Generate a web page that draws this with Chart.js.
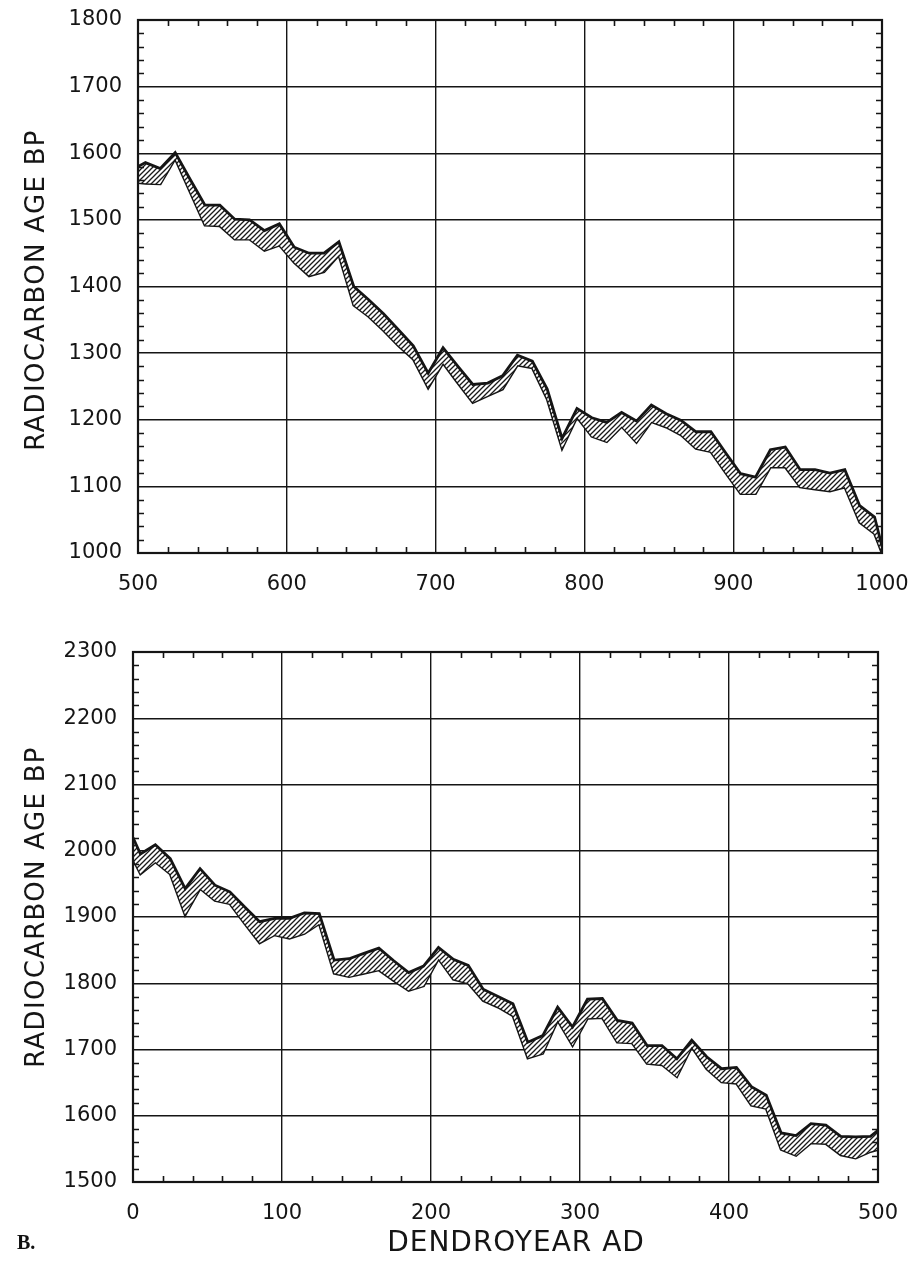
<!DOCTYPE html>
<html><head><meta charset="utf-8">
<script src="https://cdn.jsdelivr.net/npm/chart.js@4/dist/chart.umd.min.js"></script>
<style>
html,body{margin:0;padding:0;background:#fff;width:913px;height:1261px;overflow:hidden;position:relative}
#c1{position:absolute;left:0;top:0}
#c2{position:absolute;left:0;top:620px}
#lbl{position:absolute;left:17px;top:1232px;font:bold 20px "Liberation Serif",serif;line-height:20px;color:#111}
</style></head><body>
<canvas id="c1" width="913" height="620"></canvas>
<canvas id="c2" width="913" height="641"></canvas>
<div id="lbl">B.</div>
<script>
// ---- Top panel: dendroyear AD 500-1000 ----
const topYears = [500,505,515,525,535,545,555,565,575,585,595,605,615,625,635,645,655,665,675,685,695,705,715,725,735,745,755,765,775,785,795,805,815,825,835,845,855,865,875,885,895,905,915,925,935,945,955,965,975,985,995,1000];
const topUpper = [1580,1586,1577,1601,1561,1522,1522,1501,1500,1484,1494,1459,1450,1450,1467,1400,1380,1359,1335,1311,1270,1308,1280,1253,1255,1266,1297,1288,1246,1172,1217,1203,1196,1211,1198,1222,1209,1199,1182,1182,1150,1119,1114,1155,1159,1125,1125,1120,1125,1071,1054,1010];
const topLower = [1556,1555,1554,1592,1542,1492,1491,1471,1471,1454,1462,1436,1416,1422,1447,1372,1355,1334,1311,1291,1248,1285,1255,1226,1236,1246,1282,1278,1231,1157,1204,1175,1167,1190,1166,1197,1189,1177,1157,1152,1120,1089,1089,1129,1129,1099,1096,1093,1099,1046,1029,1000];
const topXTicks = [500,600,700,800,900,1000];
const topYTicks = [1000,1100,1200,1300,1400,1500,1600,1700,1800];

// ---- Bottom panel: dendroyear AD 0-500 ----
const botYears = [0,5,15,25,35,45,55,65,75,85,95,105,115,125,135,145,155,165,175,185,195,205,215,225,235,245,255,265,275,285,295,305,315,325,335,345,355,365,375,385,395,405,415,425,435,445,455,465,475,485,495,500];
const botUpper = [2020,1995,2009,1988,1943,1973,1948,1938,1915,1893,1898,1898,1906,1905,1835,1837,1845,1853,1834,1816,1826,1854,1836,1827,1791,1780,1769,1711,1721,1764,1734,1776,1777,1744,1740,1706,1706,1686,1714,1689,1671,1673,1644,1631,1574,1570,1588,1586,1569,1568,1569,1578];
const botLower = [1988,1965,1983,1965,1903,1943,1925,1920,1890,1861,1873,1868,1875,1890,1815,1810,1815,1820,1804,1789,1796,1837,1806,1800,1774,1764,1751,1687,1694,1744,1706,1747,1748,1711,1710,1679,1677,1659,1704,1671,1651,1649,1616,1611,1549,1540,1559,1558,1541,1536,1546,1549];
const botXTicks = [0,100,200,300,400,500];
const botYTicks = [1500,1600,1700,1800,1900,2000,2100,2200,2300];

const yTitleText = 'RADIOCARBON AGE BP';
const xTitleText = 'DENDROYEAR AD';

const INK = '#151515';

function makeHatch(){
  const s = 5;
  const c = document.createElement('canvas'); c.width = s; c.height = s;
  const g = c.getContext('2d');
  g.fillStyle = '#fff'; g.fillRect(0,0,s,s);
  g.strokeStyle = '#1a1a1a'; g.lineWidth = 1.3;
  g.beginPath();
  g.moveTo(0,s); g.lineTo(s,0);
  g.moveTo(-1,1); g.lineTo(1,-1);
  g.moveTo(s-1,s+1); g.lineTo(s+1,s-1);
  g.stroke();
  return g.createPattern(c,'repeat');
}

const framePlugin = {
  id: 'frame',
  beforeInit(chart){ chart.ctx.letterSpacing = '1.5px'; },
  afterDraw(chart, args, o){
    const ctx = chart.ctx, a = chart.chartArea, x = chart.scales.x, y = chart.scales.y;
    ctx.save();
    ctx.strokeStyle = INK; ctx.lineCap = 'butt';
    ctx.lineWidth = 2.2;
    ctx.strokeRect(a.left, a.top, a.right - a.left, a.bottom - a.top);
    ctx.lineWidth = 1.6;
    const L = 6;
    ctx.beginPath();
    for (let v = x.min; v <= x.max; v += 20){
      if ((v - x.min) % 100 === 0) continue;
      const px = Math.round(x.getPixelForValue(v)) + 0.5;
      ctx.moveTo(px, a.bottom); ctx.lineTo(px, a.bottom - L);
      ctx.moveTo(px, a.top); ctx.lineTo(px, a.top + L);
    }
    for (let v = y.min; v <= y.max; v += 20){
      if ((v - y.min) % 100 === 0) continue;
      const py = Math.round(y.getPixelForValue(v)) + 0.5;
      ctx.moveTo(a.left, py); ctx.lineTo(a.left + L, py);
      ctx.moveTo(a.right, py); ctx.lineTo(a.right - L, py);
    }
    ctx.stroke();
    ctx.fillStyle = INK;
    if (o.yTitle){
      ctx.save();
      ctx.font = o.yFont;
      ctx.letterSpacing = o.ySpacing;
      ctx.translate(o.yTitleX, o.yTitleY);
      ctx.rotate(-Math.PI/2);
      ctx.textAlign = 'center'; ctx.textBaseline = 'middle';
      ctx.fillText(o.yTitle, 0, 0);
      ctx.restore();
    }
    if (o.xTitle){
      ctx.save();
      ctx.font = o.xFont;
      ctx.letterSpacing = o.xSpacing;
      ctx.textAlign = 'center'; ctx.textBaseline = 'middle';
      ctx.fillText(o.xTitle, o.xTitleX, o.xTitleY);
      ctx.restore();
    }
    ctx.restore();
  }
};

function zeroPad(s){ s.paddingLeft = 0; s.paddingRight = 0; s.paddingTop = 0; s.paddingBottom = 0; }

function buildChart(canvas, cfg){
  const hatch = makeHatch();
  const up = cfg.years.map((v,i)=>({x:v, y:cfg.upper[i]}));
  const lo = cfg.years.map((v,i)=>({x:v, y:cfg.lower[i]}));
  const tickFont = {family:'DejaVu Sans', size:21};
  return new Chart(canvas, {
    type: 'line',
    data: {datasets: [
      {data: up, borderColor: INK, borderWidth: 2.8, pointRadius: 0, tension: 0, fill: '+1', backgroundColor: hatch, borderJoinStyle:'miter'},
      {data: lo, borderColor: INK, borderWidth: 2.8, pointRadius: 0, tension: 0, fill: false, borderJoinStyle:'miter'}
    ]},
    options: {
      responsive: false, animation: false,
      layout: {padding: cfg.padding, autoPadding: false},
      plugins: {legend:{display:false}, tooltip:{enabled:false}, frame: cfg.frame},
      scales: {
        x: {type:'linear', min: cfg.xTicks[0], max: cfg.xTicks[cfg.xTicks.length-1],
            afterBuildTicks: s => { s.ticks = cfg.xTicks.map(v=>({value:v})); },
            afterFit: s => { s.height = cfg.xHeight; zeroPad(s); },
            grid: {color: INK, lineWidth: 1.4, drawTicks: false},
            border: {display: true, color: INK, width: 2},
            ticks: {font: tickFont, color: INK, padding: cfg.xPad, maxRotation: 0, autoSkip: false, callback: v => String(v)}},
        y: {type:'linear', min: cfg.yTicks[0], max: cfg.yTicks[cfg.yTicks.length-1],
            afterBuildTicks: s => { s.ticks = cfg.yTicks.map(v=>({value:v})); },
            afterFit: s => { s.width = cfg.yWidth; zeroPad(s); },
            grid: {color: INK, lineWidth: 1.4, drawTicks: false},
            border: {display: true, color: INK, width: 2},
            ticks: {font: tickFont, color: INK, padding: 16, autoSkip: false, callback: v => String(v)}}
      }
    },
    plugins: [framePlugin]
  });
}

buildChart(document.getElementById('c1'), {
  years: topYears, upper: topUpper, lower: topLower, xTicks: topXTicks, yTicks: topYTicks,
  padding: {top: 20, right: 31, left: 0, bottom: 0}, xHeight: 67, yWidth: 138, xPad: 19,
  frame: {yTitle: yTitleText, yTitleX: 37, yTitleY: 290, yFont: '26px "DejaVu Sans"', ySpacing: '1.3px'}
});
buildChart(document.getElementById('c2'), {
  years: botYears, upper: botUpper, lower: botLower, xTicks: botXTicks, yTicks: botYTicks,
  padding: {top: 32, right: 35, left: 0, bottom: 0}, xHeight: 79, yWidth: 133, xPad: 19,
  frame: {yTitle: yTitleText, yTitleX: 37, yTitleY: 287, yFont: '26px "DejaVu Sans"', ySpacing: '1.3px',
          xTitle: xTitleText, xTitleX: 516, xTitleY: 624, xFont: '28px "DejaVu Sans"', xSpacing: '1px'}
});
</script>
</body></html>
